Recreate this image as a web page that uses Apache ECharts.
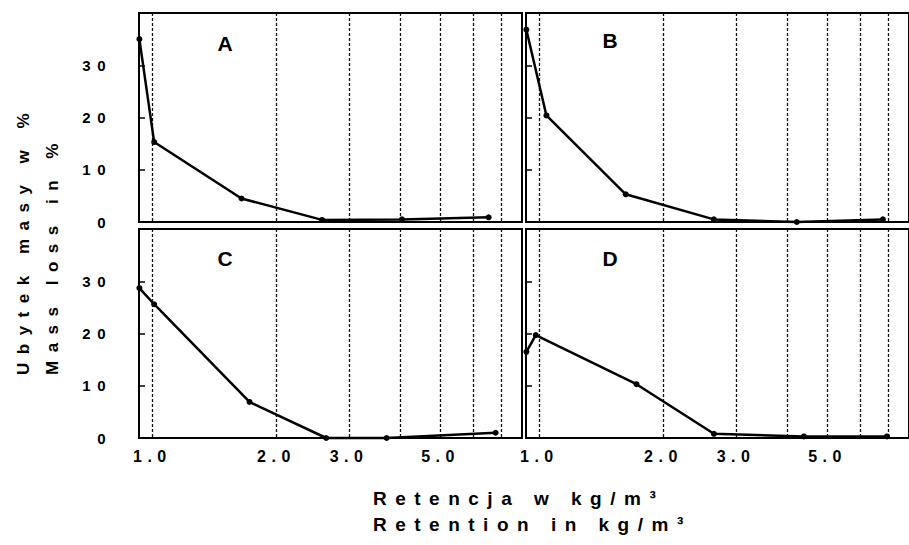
<!DOCTYPE html>
<html>
<head>
<meta charset="utf-8">
<script src="https://cdn.jsdelivr.net/npm/echarts@6/dist/echarts.min.js"></script>
<style>
html, body { margin: 0; padding: 0; background: #fff; }
#main { width: 909px; height: 545px; }
</style>
</head>
<body>
<div id="main"></div>
<script>
// retention in kg/m3 (x) and mass loss in % (y), one pair of arrays per panel
var panelNames = ['A', 'B', 'C', 'D'];
var retA  = [0.93, 1.01, 1.645, 2.58, 4.03, 6.54];
var lossA = [35.0, 15.3, 4.5, 0.4, 0.5, 0.9];
var retB  = [0.93, 1.04, 1.62, 2.65, 4.21, 6.81];
var lossB = [36.8, 20.4, 5.3, 0.5, 0.0, 0.5];
var retC  = [0.93, 1.01, 1.72, 2.64, 3.70, 6.80];
var lossC = [28.7, 25.6, 6.9, 0.0, 0.0, 1.0];
var retD  = [0.93, 0.98, 1.72, 2.65, 4.38, 6.97];
var lossD = [16.5, 19.7, 10.3, 0.8, 0.3, 0.3];

var xGridValues = [1, 2, 3, 4, 5, 6, 7];
var xLabelValues = [1, 2, 3, 5];
var yMin = 0, yMax = 40, yStep = 10;

var rets = [retA, retB, retC, retD];
var losses = [lossA, lossB, lossC, lossD];

function pairs(xs, ys) {
    return xs.map(function (x, i) { return [x, ys[i]]; });
}

var chart = echarts.init(document.getElementById('main'), null, { renderer: 'svg' });

var grids = [], xAxes = [], yAxes = [], series = [], graphics = [];
var lefts = [139, 526, 139, 526];
var tops = [13, 13, 229, 229];

for (var i = 0; i < 4; i++) {
    grids.push({
        left: lefts[i], top: tops[i], width: 383, height: 209,
        show: true, borderColor: '#000', borderWidth: 2
    });
    xAxes.push({
        type: 'log', gridIndex: i, min: 0.928, max: 7.88,
        axisLine: { show: false },
        axisTick: { show: false, customValues: xGridValues },
        splitLine: { show: true, lineStyle: { color: '#111', width: 1.3, type: [3, 2] } },
        axisLabel: {
            show: i >= 2, customValues: xLabelValues,
            formatter: function (v) { return Number(v).toFixed(1); },
            color: '#000', fontSize: 16, fontWeight: 'bold', fontFamily: 'Liberation Sans', margin: 10
        }
    });
    yAxes.push({
        type: 'value', gridIndex: i, min: yMin, max: yMax, interval: yStep,
        axisLine: { show: false },
        axisTick: { show: true, inside: true, length: 6, lineStyle: { color: '#000', width: 1.5 } },
        splitLine: { show: false },
        axisLabel: {
            show: i % 2 === 0,
            formatter: function (v) { return v === yMax ? '' : String(v); },
            color: '#000', fontSize: 15, fontWeight: 'bold', fontFamily: 'Liberation Sans', margin: 27
        }
    });
    series.push({
        type: 'line', xAxisIndex: i, yAxisIndex: i,
        data: pairs(rets[i], losses[i]),
        symbol: 'circle', symbolSize: 6, clip: false,
        lineStyle: { color: '#000', width: 2.5 },
        itemStyle: { color: '#000' }
    });
}

var letterPos = [[225, 43], [610, 40], [225, 258], [610, 258]];
panelNames.forEach(function (n, i) {
    graphics.push({
        type: 'text', x: letterPos[i][0], y: letterPos[i][1],
        style: {
            text: n, font: 'bold 21px "Liberation Sans"', fill: '#000',
            align: 'center', verticalAlign: 'middle', textAlign: 'center', textVerticalAlign: 'middle'
        }
    });
});

graphics.push({
    type: 'text', x: 9, y: 375, rotation: Math.PI / 2,
    style: {
        text: 'Ubytek masy w %\nMass loss in %', font: 'bold 17px "Liberation Sans"', fill: '#000',
        lineHeight: 29, align: 'left', verticalAlign: 'top', textAlign: 'left', textVerticalAlign: 'top'
    }
});
graphics.push({
    type: 'text', x: 373, y: 485,
    style: {
        text: 'Retencja w kg/m³\nRetention in kg/m³', font: 'bold 19px "Liberation Sans"', fill: '#000',
        lineHeight: 26, align: 'left', verticalAlign: 'top', textAlign: 'left', textVerticalAlign: 'top'
    }
});

chart.setOption({
    animation: false,
    backgroundColor: '#fff',
    grid: grids,
    xAxis: xAxes,
    yAxis: yAxes,
    series: series,
    graphic: graphics
});

// the printed figure uses widely tracked lettering
function spaceLetters() {
    var texts = document.querySelectorAll('#main text');
    texts.forEach(function (t) {
        var s = t.textContent;
        if (/^Reten/.test(s)) t.style.letterSpacing = '8.5px';
        else if (/^(Ubytek|Mass)/.test(s)) t.style.letterSpacing = '8.5px';
        else if (/^\d+$/.test(s)) t.style.letterSpacing = '6.5px';
        else if (/^\d\.\d$/.test(s)) t.style.letterSpacing = '5.5px';
    });
}
chart.on('finished', spaceLetters);
spaceLetters();
</script>
</body>
</html>
